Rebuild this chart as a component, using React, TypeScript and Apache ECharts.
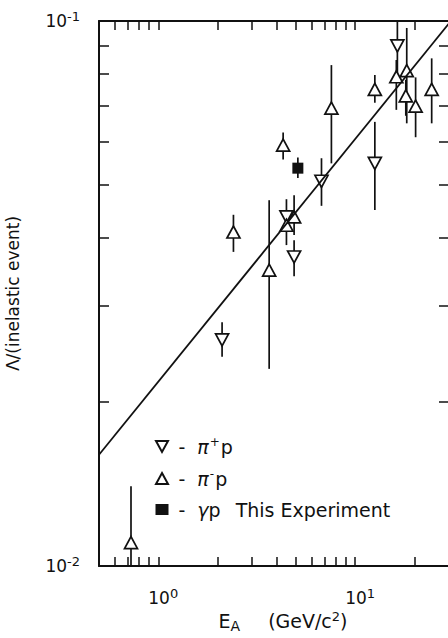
import React, { useEffect, useRef } from 'react';
import * as echarts from 'echarts';

// π+p (down triangles)
const piPlusE = [2.11, 4.48, 4.9, 6.75, 12.6, 16.4];
const piPlusV = [0.026, 0.0437, 0.0369, 0.0508, 0.0548, 0.09];
const piPlusLo = [0.0242, 0.0422, 0.034, 0.0458, 0.045, 0.08];
const piPlusHi = [0.028, 0.0471, 0.0396, 0.056, 0.0653, 0.1];

// π-p (up triangles)
const piMinusE = [0.727, 2.41, 3.66, 4.31, 4.48, 4.9, 7.58, 12.6, 16.2, 18.3, 18.1, 20.3, 24.5];
const piMinusV = [0.01104, 0.041, 0.0349, 0.0592, 0.0422, 0.0437, 0.0692, 0.0749, 0.079, 0.0811, 0.0729, 0.0698, 0.0749];
const piMinusLo = [0.01, 0.0377, 0.023, 0.0557, 0.0388, 0.0405, 0.0548, 0.0708, 0.0687, 0.0649, 0.067, 0.0612, 0.0649];
const piMinusHi = [0.014, 0.0441, 0.0469, 0.0624, 0.0437, 0.0479, 0.083, 0.0796, 0.0848, 0.0971, 0.078, 0.0788, 0.0854];

// γp This Experiment (filled square)
const gammaE = [5.12];
const gammaV = [0.0537];
const gammaLo = [0.0515];
const gammaHi = [0.0562];

// fitted line
const fitE = [0.5, 30];
const fitV = [0.016, 0.099];

// axes
const xMin = 0.5;
const xMax = 30;
const yMin = 0.01;
const yMax = 0.1;
const xTickValues = [0.6, 0.7, 0.8, 0.9, 1, 2, 3, 4, 5, 6, 7, 8, 9, 10, 20];
const yTickValues = [0.02, 0.03, 0.04, 0.05, 0.06, 0.07, 0.08, 0.09];
const xLabelExponents = [0, 1];
const yLabelExponents = [-2, -1];

const seriesNames = ['π+p', 'π-p', 'γp This Experiment'];
const legendTexts = [
  '{d|-}{g|π}{sp|+}{t|p}',
  '{d|-}{g|π}{sp|-}{t|p}',
  '{d|-}{g|γ}{t|p}{t2|This Experiment}',
];

const INK = '#111';
const FONT = 'DejaVu Sans';
const DOWN = 'path://M0,0L12,0L6,11Z';
const UP = 'path://M6,0L12,11L0,11Z';

const supRich = {
  b: { fontSize: 17, fontFamily: FONT, color: INK, lineHeight: 22 },
  s: { fontSize: 13, fontFamily: FONT, color: INK, padding: [0, 0, 9, 0] },
};

function buildOption() {
  const lg = Math.log10;
  const errData = [
    ...piPlusE.map((e, i) => [e, piPlusLo[i], piPlusHi[i]]),
    ...piMinusE.map((e, i) => [e, piMinusLo[i], piMinusHi[i]]),
    ...gammaE.map((e, i) => [e, gammaLo[i], gammaHi[i]]),
  ];
  const noSplit = { show: false };
  const frameLine = { show: true, onZero: false, lineStyle: { color: INK, width: 2 } };
  const tickStyle = { color: INK, width: 1.5 };
  return {
    animation: false,
    backgroundColor: '#fff',
    grid: { left: 99, right: -1, top: 21, bottom: 72, containLabel: false, outerBoundsMode: 'none' },
    legend: {
      orient: 'vertical',
      left: 155,
      top: 436,
      padding: 0,
      itemWidth: 13,
      itemHeight: 11,
      itemGap: 12,
      selectedMode: false,
      data: seriesNames,
      formatter: (name: string) => legendTexts[seriesNames.indexOf(name)],
      textStyle: {
        color: INK,
        fontFamily: FONT,
        fontSize: 19,
        rich: {
          d: { fontSize: 19, fontFamily: FONT, color: INK, lineHeight: 22, padding: [0, 12, 0, 5] },
          g: { fontSize: 19, fontFamily: FONT, color: INK, lineHeight: 22, fontStyle: 'italic' },
          sp: { fontSize: 12, fontFamily: FONT, color: INK, padding: [0, 1, 9, 1] },
          t: { fontSize: 19, fontFamily: FONT, color: INK, lineHeight: 22 },
          t2: { fontSize: 19, fontFamily: FONT, color: INK, lineHeight: 22, padding: [0, 0, 0, 15] },
        },
      },
    },
    xAxis: [
      {
        type: 'log', min: xMin, max: xMax, position: 'bottom',
        axisLine: frameLine, axisTick: { show: false }, axisLabel: { show: false },
        splitLine: noSplit, minorTick: { show: false }, minorSplitLine: { show: false },
        name: '{e|E}{sub|A}{t|(GeV/c}{sup|2}{t2|)}',
        nameLocation: 'middle', nameGap: 43,
        nameTextStyle: {
          padding: [0, 0, 0, 18],
          rich: {
            e: { fontSize: 19, fontFamily: FONT, color: INK, lineHeight: 24 },
            sub: { fontSize: 14, fontFamily: FONT, color: INK, padding: [9, 0, 0, 0] },
            t: { fontSize: 19, fontFamily: FONT, color: INK, lineHeight: 24, padding: [0, 0, 0, 28] },
            sup: { fontSize: 13, fontFamily: FONT, color: INK, padding: [0, 0, 9, 0] },
            t2: { fontSize: 19, fontFamily: FONT, color: INK, lineHeight: 24 },
          },
        },
      },
      {
        type: 'value', min: lg(xMin), max: lg(xMax), position: 'bottom',
        axisLine: { show: false, onZero: false },
        axisTick: { show: true, inside: true, length: 9, customValues: xTickValues.map(lg), lineStyle: tickStyle },
        axisLabel: {
          show: true, customValues: xLabelExponents, margin: 21, padding: [0, 0, 0, 10],
          formatter: (v: number) => `{b|10}{s|${Math.round(v)}}`, rich: supRich,
        },
        splitLine: noSplit,
      },
      {
        type: 'value', min: lg(xMin), max: lg(xMax), position: 'top',
        axisLine: frameLine,
        axisTick: { show: true, inside: true, length: 9, customValues: xTickValues.map(lg), lineStyle: tickStyle },
        axisLabel: { show: false },
        splitLine: noSplit,
      },
    ],
    yAxis: [
      {
        type: 'log', min: yMin, max: yMax, position: 'left',
        axisLine: frameLine, axisTick: { show: false }, axisLabel: { show: false },
        splitLine: noSplit, minorTick: { show: false }, minorSplitLine: { show: false },
        name: 'Λ/(inelastic event)', nameLocation: 'middle', nameGap: 78,
        nameTextStyle: { fontSize: 17, fontFamily: FONT, color: INK },
      },
      {
        type: 'value', min: lg(yMin), max: lg(yMax), position: 'left',
        axisLine: { show: false, onZero: false },
        axisTick: { show: true, inside: true, length: 10, customValues: yTickValues.map(lg), lineStyle: tickStyle },
        axisLabel: {
          show: true, customValues: yLabelExponents, margin: 19,
          formatter: (v: number) => `{b|10}{s|${Math.round(v)}}`, rich: supRich,
        },
        splitLine: noSplit,
      },
      {
        type: 'value', min: lg(yMin), max: lg(yMax), position: 'right',
        axisLine: frameLine,
        axisTick: { show: true, inside: true, length: 10, customValues: yTickValues.map(lg), lineStyle: tickStyle },
        axisLabel: { show: false },
        splitLine: noSplit,
      },
    ],
    series: [
      {
        type: 'custom',
        name: 'errors',
        xAxisIndex: 0,
        yAxisIndex: 0,
        z: 1,
        silent: true,
        encode: { x: 0, y: [1, 2] },
        data: errData,
        renderItem: (params: any, api: any) => {
          const x = api.value(0);
          const p1 = api.coord([x, api.value(1)]);
          const p2 = api.coord([x, api.value(2)]);
          return {
            type: 'line',
            shape: { x1: p1[0], y1: p1[1], x2: p2[0], y2: p2[1] },
            style: { stroke: INK, lineWidth: 1.7 },
          };
        },
      },
      {
        type: 'line',
        name: 'fit',
        xAxisIndex: 0,
        yAxisIndex: 0,
        z: 4,
        silent: true,
        symbol: 'none',
        data: fitE.map((e, i) => [e, fitV[i]]),
        lineStyle: { color: INK, width: 1.8 },
      },
      {
        type: 'scatter',
        name: seriesNames[0],
        xAxisIndex: 0,
        yAxisIndex: 0,
        z: 3,
        symbol: DOWN,
        symbolSize: [13, 12],
        data: piPlusE.map((e, i) => [e, piPlusV[i]]),
        itemStyle: { color: '#fff', borderColor: INK, borderWidth: 1.7, opacity: 1 },
      },
      {
        type: 'scatter',
        name: seriesNames[1],
        xAxisIndex: 0,
        yAxisIndex: 0,
        z: 3,
        symbol: UP,
        symbolSize: [13, 12],
        data: piMinusE.map((e, i) => [e, piMinusV[i]]),
        itemStyle: { color: '#fff', borderColor: INK, borderWidth: 1.7, opacity: 1 },
      },
      {
        type: 'scatter',
        name: seriesNames[2],
        xAxisIndex: 0,
        yAxisIndex: 0,
        z: 3,
        symbol: 'rect',
        symbolSize: [11, 11],
        data: gammaE.map((e, i) => [e, gammaV[i]]),
        itemStyle: { color: INK, borderColor: INK, borderWidth: 0, opacity: 1 },
      },
    ],
  };
}

export default function App() {
  const ref = useRef<HTMLDivElement>(null);
  useEffect(() => {
    if (!ref.current) return;
    const chart = echarts.init(ref.current, null, { renderer: 'svg' });
    chart.setOption(buildOption() as any);
    return () => chart.dispose();
  }, []);
  return (
    <div
      ref={ref}
      style={{ position: 'fixed', left: 0, top: 0, width: 448, height: 638, background: '#fff' }}
    />
  );
}
